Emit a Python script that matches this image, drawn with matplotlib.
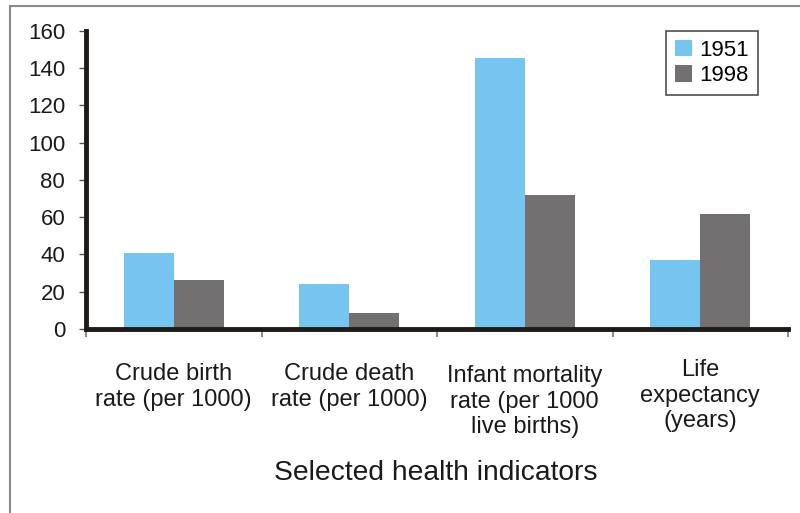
import numpy as np
import matplotlib.pyplot as plt
from matplotlib.patches import Rectangle
from matplotlib.transforms import blended_transform_factory

plt.rcParams['font.family'] = ['Liberation Sans', 'DejaVu Sans']

# Datos
categorias = ['Crude birth\nrate (per 1000)', 'Crude death\nrate (per 1000)',
              'Infant mortality\nrate (per 1000\nlive births)', 'Life\nexpectancy\n(years)']
series = ['1951', '1998']
valores_1951 = [40.6, 24.3, 145.5, 37.0]
valores_1998 = [26.3, 8.4, 72.0, 61.7]
yticks = [0, 20, 40, 60, 80, 100, 120, 140, 160]

azul = '#76C5F0'
gris = '#727071'

fig = plt.figure(figsize=(8, 5.13), dpi=100)
ax = fig.add_axes([0.1075, 0.3587, 0.8775, 0.5809])

# marco gris de la figura
fig.patches.append(Rectangle((10 / 800, -0.1), 1.1, 1.1 - 6 / 513, transform=fig.transFigure,
                             fill=False, edgecolor='#8a8a8a', linewidth=1.5))

x = np.arange(len(categorias))
ancho = 0.285
ax.bar(x - ancho / 2, valores_1951, ancho, color=azul, label=series[0])
ax.bar(x + ancho / 2, valores_1998, ancho, color=gris, label=series[1])

ax.set_xlim(-0.5, len(categorias) - 0.5)
ax.set_ylim(0, 160)
ax.set_yticks(yticks)
ax.set_xticks(np.arange(len(categorias) + 1) - 0.5)
ax.set_xticklabels([])
ax.tick_params(axis='y', direction='out', length=5, width=1, color='#555555',
               labelsize=16, pad=10, labelcolor='#1a1a1a')
ax.tick_params(axis='x', direction='out', length=6, width=1.2, color='#777777')

for lado in ['top', 'right']:
    ax.spines[lado].set_visible(False)
for lado in ['left', 'bottom']:
    ax.spines[lado].set_linewidth(3.5)
    ax.spines[lado].set_color('#1f1a17')

# etiquetas de categorias
trans = blended_transform_factory(ax.transData, fig.transFigure)
alturas = [1 - 363 / 513, 1 - 363 / 513, 1 - 365 / 513, 1 - 359 / 513]
for i, etiqueta in enumerate(categorias):
    ax.text(i, alturas[i], etiqueta, transform=trans, ha='center', va='top',
            fontsize=17, linespacing=1.22, color='#1a1a1a')

fig.text(436 / 800, 1 - 473 / 513, 'Selected health indicators', ha='center', va='center',
         fontsize=20.3, color='#1a1a1a')

leg = ax.legend(loc='upper right', bbox_to_anchor=(0.957, 1.0), fontsize=16,
                frameon=True, fancybox=False, edgecolor='#222222',
                handlelength=0.75, handleheight=0.75, handletextpad=0.35,
                labelspacing=0.2, borderpad=0.4, borderaxespad=0)
leg.get_frame().set_linewidth(1.2)

fig.savefig('out.png', dpi=100)
